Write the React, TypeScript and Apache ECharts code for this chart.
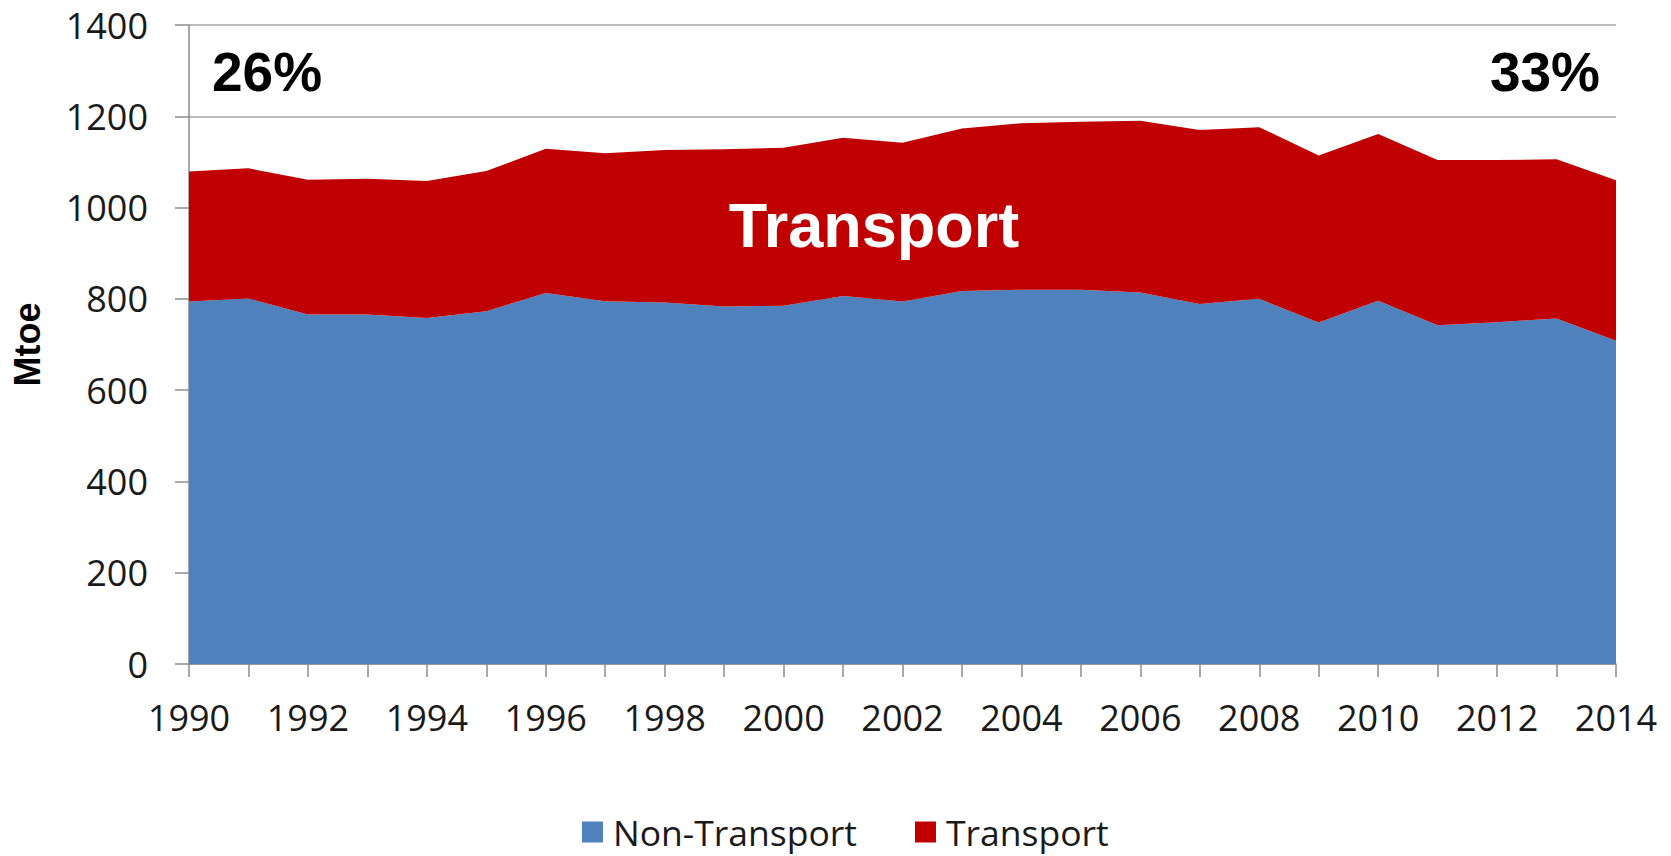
import React, { useEffect, useRef } from "react";
import * as echarts from "echarts";

const years = [
  "1990", "1991", "1992", "1993", "1994", "1995", "1996", "1997", "1998", "1999",
  "2000", "2001", "2002", "2003", "2004", "2005", "2006", "2007", "2008", "2009",
  "2010", "2011", "2012", "2013", "2014",
];

// Mtoe
const nonTransport = [
  794, 801, 766, 766, 758, 773, 813, 795, 792, 783,
  785, 806, 794, 817, 820, 820, 814, 789, 800, 748,
  796, 742, 749, 757, 708,
];

const transport = [
  285, 285, 295, 297, 300, 307, 316, 324, 334, 345,
  346, 347, 348, 356, 365, 368, 376, 381, 376, 366,
  365, 362, 355, 349, 352,
];

const seriesNames = ["Non-Transport", "Transport"];
const seriesColors = ["#4F81BD", "#C00000"];
const yAxisName = "Mtoe";
const startShareLabel = "26%";
const endShareLabel = "33%";
const areaLabel = "Transport";

export default function App() {
  const ref = useRef<HTMLDivElement>(null);

  useEffect(() => {
    if (!ref.current) return;
    const chart = echarts.init(ref.current, null, { renderer: "svg" });
    const axisGray = "#8c8c8c";
    const labelFont = "Open Sans";
    chart.setOption({
      animation: false,
      backgroundColor: "#ffffff",
      grid: {
        left: 189,
        right: 55,
        top: 25,
        bottom: 192,
        containLabel: false,
        outerBoundsMode: "none",
      },
      legend: {
        left: 582,
        top: 814,
        padding: 0,
        itemWidth: 21,
        itemHeight: 21,
        itemGap: 58,
        icon: "rect",
        data: seriesNames,
        textStyle: {
          fontFamily: labelFont,
          fontSize: 35.5,
          lineHeight: 34,
          color: "#1a1a1a",
          padding: [0, 0, 0, 5],
        },
      },
      xAxis: {
        type: "category",
        data: years,
        boundaryGap: false,
        axisLine: { show: true, lineStyle: { color: axisGray, width: 1.5 } },
        axisTick: { show: true, interval: 0, length: 13, lineStyle: { color: axisGray, width: 1.5 } },
        axisLabel: {
          interval: 1,
          margin: 35,
          fontFamily: labelFont,
          fontSize: 36,
          lineHeight: 36,
          color: "#1a1a1a",
        },
        splitLine: { show: false },
      },
      yAxis: {
        type: "value",
        min: 0,
        max: 1400,
        interval: 200,
        name: yAxisName,
        nameLocation: "middle",
        nameRotate: 90,
        nameGap: 144,
        nameTextStyle: {
          fontFamily: "Liberation Sans",
          fontWeight: "bold",
          fontSize: 36,
          color: "#000000",
        },
        axisLine: { show: true, lineStyle: { color: axisGray, width: 1.5 } },
        axisTick: { show: true, length: 14, lineStyle: { color: axisGray, width: 1.5 } },
        axisLabel: {
          margin: 41,
          fontFamily: labelFont,
          fontSize: 36,
          color: "#1a1a1a",
          formatter: (v: number) => String(v),
        },
        splitLine: { show: true, lineStyle: { color: "#a6a6a6", width: 1.5 } },
      },
      series: [
        {
          name: seriesNames[0],
          type: "line",
          stack: "total",
          data: nonTransport,
          symbol: "none",
          lineStyle: { width: 0 },
          itemStyle: { color: seriesColors[0] },
          areaStyle: { color: seriesColors[0], opacity: 1 },
        },
        {
          name: seriesNames[1],
          type: "line",
          stack: "total",
          data: transport,
          symbol: "none",
          lineStyle: { width: 0 },
          itemStyle: { color: seriesColors[1] },
          areaStyle: { color: seriesColors[1], opacity: 1 },
        },
      ],
      graphic: [
        {
          type: "text",
          x: 212,
          y: 72,
          z: 100,
          style: {
            text: startShareLabel,
            fill: "#000000",
            fontFamily: "Liberation Sans",
            fontWeight: "bold",
            fontSize: 55,
            align: "left",
            verticalAlign: "middle",
          },
        },
        {
          type: "text",
          x: 1600,
          y: 72,
          z: 100,
          style: {
            text: endShareLabel,
            fill: "#000000",
            fontFamily: "Liberation Sans",
            fontWeight: "bold",
            fontSize: 55,
            align: "right",
            verticalAlign: "middle",
          },
        },
        {
          type: "text",
          x: 874,
          y: 225,
          z: 100,
          style: {
            text: areaLabel,
            fill: "#ffffff",
            fontFamily: "Liberation Sans",
            fontWeight: "bold",
            fontSize: 63,
            align: "center",
            verticalAlign: "middle",
          },
        },
      ],
    });
    return () => chart.dispose();
  }, []);

  return (
    <div
      ref={ref}
      style={{ position: "fixed", left: 0, top: 0, width: 1671, height: 856 }}
    />
  );
}
